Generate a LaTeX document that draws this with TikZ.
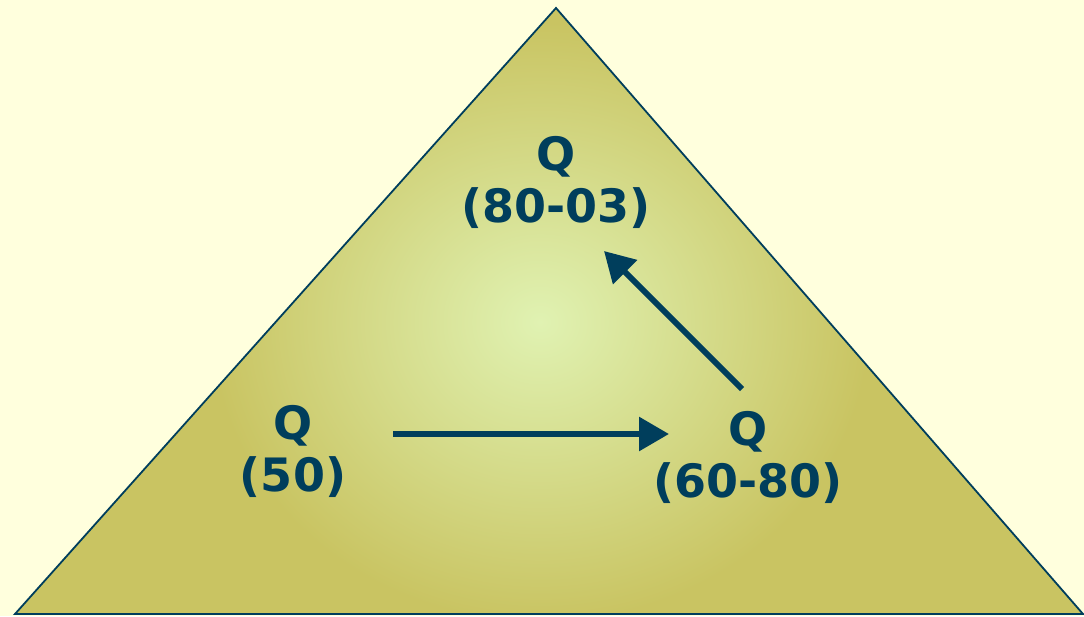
\documentclass[tikz,border=0pt]{standalone}
\usepackage{fontspec}
\setmainfont{DejaVu Sans}
\usetikzlibrary{arrows.meta}
\definecolor{bgc}{HTML}{FFFFDD}
\definecolor{olive}{HTML}{C9C462}
\definecolor{lightg}{HTML}{E0F2B2}
\definecolor{ink}{HTML}{003E5C}
\tikzset{
  lbl/.style={text=ink, font=\fontsize{46}{52}\selectfont\bfseries, align=center, inner sep=0pt},
  flow/.style={draw=ink, line width=6pt, -{Triangle[length=30pt,width=33pt]}}
}
\begin{document}
\begin{tikzpicture}[x=1pt,y=-1pt]
\fill[bgc] (0,0) rectangle (1084,616);
\useasboundingbox (0,0) rectangle (1084,616);
\coordinate (top) at (556,8);
\coordinate (bl) at (15,614);
\coordinate (br) at (1083,614);
\fill[olive] (top) -- (bl) -- (br) -- cycle;
\begin{scope}
  \clip (top) -- (bl) -- (br) -- cycle;
  \shade[inner color=lightg, outer color=olive] (540,322) ellipse [x radius=330, y radius=300];
\end{scope}
\draw[ink, line width=1.8pt, line join=miter] (top) -- (bl) -- (br) -- cycle;
\node[lbl] (qtop) at (556,182) {Q\\(80-03)};
\node[lbl] (qleft) at (293,451) {Q\\(50)};
\node[lbl] (qright) at (748,457) {Q\\(60-80)};
\coordinate (a1s) at (393,434);
\coordinate (a1e) at (669,434);
\coordinate (a2s) at (742,389);
\coordinate (a2e) at (604,251);
\draw[flow] (a1s) -- (a1e);
\draw[flow] (a2s) -- (a2e);
\end{tikzpicture}
\end{document}
